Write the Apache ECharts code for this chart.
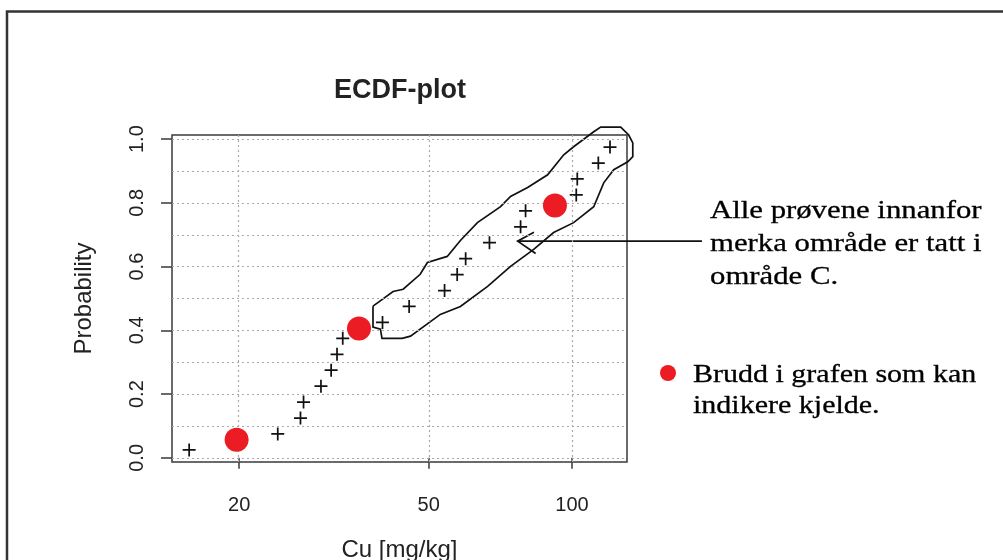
<!DOCTYPE html>
<html><head><meta charset="utf-8">
<script src="https://cdn.jsdelivr.net/npm/echarts@6/dist/echarts.min.js"></script>
<style>html,body{margin:0;padding:0;background:#fff}#c{width:1003px;height:560px}</style>
</head><body><div id="c"></div>
<script>
// ECDF points (Cu mg/kg vs probability)
const cuValues = [15.7, 24.1, 26.9, 27.3, 29.7, 31.2, 32.1, 33.0, 40.0, 45.5, 54.0, 57.4, 59.8, 67.1, 78.0, 79.9, 102.1, 102.6, 113.6, 120.2];
const probValues = [0.025, 0.075, 0.125, 0.175, 0.225, 0.275, 0.325, 0.375, 0.425, 0.475, 0.525, 0.575, 0.625, 0.675, 0.725, 0.775, 0.825, 0.875, 0.925, 0.975];
// Break points (red dots)
const breakCu = [19.75, 35.7, 92.1];
const breakProb = [0.057, 0.406, 0.792];
// Ticks
const xTickValues = [20, 50, 100];
const yTickValues = [0, 0.2, 0.4, 0.6, 0.8, 1.0];
const yGridValues = [0, 0.1, 0.2, 0.3, 0.4, 0.5, 0.6, 0.7, 0.8, 0.9, 1.0];
// Hand-drawn outline around area C samples (data units)
const outlineCu = [38.2, 42.1, 44.2, 48.0, 49.7, 54.7, 58.3, 63.3, 70.8, 74.3, 80.7, 88.9, 96.1, 100.8, 111.1, 114.9, 126.6, 131.6, 134.2, 134.2, 131.0, 122.4, 116.6, 111.1, 100.8, 91.5, 83.1, 74.3, 66.5, 58.3, 52.9, 45.8, 44.0, 39.9, 39.6, 38.2, 38.2];
const outlineProb = [0.476, 0.522, 0.529, 0.576, 0.613, 0.632, 0.682, 0.738, 0.788, 0.820, 0.848, 0.888, 0.951, 0.976, 1.023, 1.038, 1.038, 1.013, 0.988, 0.945, 0.929, 0.904, 0.863, 0.788, 0.738, 0.707, 0.654, 0.601, 0.538, 0.475, 0.450, 0.382, 0.375, 0.375, 0.404, 0.410, 0.476];
// Arrow (data units)
const arrowShaftCu = [76.9, 187.5];
const arrowShaftProb = [0.680, 0.680];
const arrowHeadCu = [83.2, 76.9, 83.9];
const arrowHeadProb = [0.708, 0.680, 0.641];

// x axis is logarithmic: plotted through log10 on a value axis
const lg = v => Math.log10(v);
const zipLog = (a, b) => a.map((v, i) => [lg(v), b[i]]);
const FONT = 'Liberation Sans';
const TXT = '#222';

const shapes = [
  {cu: outlineCu, p: outlineProb},
  {cu: arrowShaftCu, p: arrowShaftProb},
  {cu: arrowHeadCu, p: arrowHeadProb}
];

const chart = echarts.init(document.getElementById('c'), null, {renderer: 'canvas'});
chart.setOption({
  animation: false,
  backgroundColor: '#fff',
  title: {
    text: 'ECDF-plot', left: 395, top: 72, textAlign: 'center',
    textStyle: {fontSize: 27, fontWeight: 'bold', fontFamily: FONT, color: TXT}
  },
  grid: {left: 172, top: 135, right: 376, bottom: 98, outerBoundsMode: 'none', containLabel: false,
    show: true, borderColor: '#3a3a3a', borderWidth: 1.5, backgroundColor: 'transparent'},
  xAxis: {
    type: 'value', min: lg(14.45), max: lg(130.5),
    axisLine: {show: false},
    axisTick: {show: true, customValues: xTickValues.map(lg), length: 11, lineStyle: {color: '#3a3a3a', width: 1.5}},
    axisLabel: {customValues: xTickValues.map(lg), margin: 33, fontSize: 20, fontFamily: FONT, color: TXT,
      formatter: v => String(Math.round(Math.pow(10, v)))},
    splitLine: {show: false},
    name: 'Cu [mg/kg]', nameLocation: 'middle', nameGap: 76,
    nameTextStyle: {fontSize: 24, fontFamily: FONT, color: TXT}
  },
  yAxis: {
    type: 'value', min: -0.013, max: 1.013,
    axisLine: {show: false},
    axisTick: {show: true, customValues: yTickValues, length: 11, lineStyle: {color: '#3a3a3a', width: 1.5}},
    axisLabel: {customValues: yTickValues, rotate: 90, margin: 25, fontSize: 20, fontFamily: FONT, color: TXT, formatter: v => Number(v).toFixed(1)},
    splitLine: {show: false},
    name: 'Probability', nameLocation: 'middle', nameGap: 76,
    nameTextStyle: {fontSize: 24, fontFamily: FONT, color: TXT}
  },
  series: [
    {
      type: 'scatter', name: 'grid', data: [], silent: true, z: 1,
      markLine: {
        silent: true, symbol: ['none', 'none'], label: {show: false},
        lineStyle: {type: [2, 3], color: '#aaaaaa', width: 1.2, opacity: 1},
        emphasis: {disabled: true},
        data: yGridValues.map(v => ({yAxis: v})).concat(xTickValues.map(v => ({xAxis: lg(v)})))
      }
    },
    {
      type: 'custom', name: 'annotation', clip: false, silent: true, z: 3,
      data: shapes.map(s => [lg(s.cu[0]), s.p[0]]),
      renderItem: (params, api) => {
        const s = shapes[params.dataIndex];
        const pts = s.cu.map((c, i) => api.coord([lg(c), s.p[i]]));
        return {type: 'polyline', shape: {points: pts}, style: {stroke: '#111', lineWidth: 1.7, fill: null}};
      }
    },
    {
      type: 'scatter', name: 'ECDF', data: zipLog(cuValues, probValues), z: 4,
      symbol: 'path://M0,5.2H12V6.8H0Z M5.2,0H6.8V12H5.2Z', symbolSize: 13,
      itemStyle: {color: '#111', opacity: 1}
    },
    {
      type: 'scatter', name: 'Brudd', data: zipLog(breakCu, breakProb), z: 5,
      symbol: 'circle', symbolSize: 24, itemStyle: {color: '#EC1C24', opacity: 1}
    }
  ],
  graphic: [
    {type: 'polyline', shape: {points: [[7, 560], [7, 11.5], [1003, 11.5]]}, style: {stroke: '#333', lineWidth: 2.5, fill: null}},
    {type: 'text', x: 710, y: 194.5, scaleX: 1.23, style: {text: 'Alle prøvene innanfor\nmerka område er tatt i\nområde C.', font: '25px "Liberation Serif"', fill: '#000', stroke: '#000', lineWidth: 0.3, lineHeight: 33, textVerticalAlign: 'top'}},
    {type: 'circle', shape: {cx: 668, cy: 373, r: 8}, style: {fill: '#EC1C24'}},
    {type: 'text', x: 693, y: 359.5, scaleX: 1.2, style: {text: 'Brudd i grafen som kan\nindikere kjelde.', font: '25px "Liberation Serif"', fill: '#000', stroke: '#000', lineWidth: 0.3, lineHeight: 31.5, textVerticalAlign: 'top'}}
  ]
});
</script>
</body></html>
